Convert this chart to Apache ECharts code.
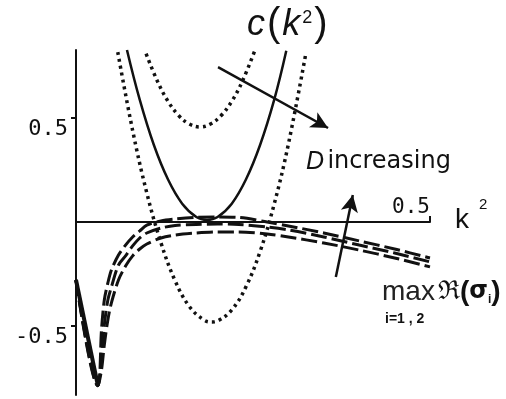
<!DOCTYPE html>
<html>
<head>
<meta charset="UTF-8">
<title>c(k2) and max Re(sigma)</title>
<style>
  html, body { margin: 0; padding: 0; background: #fff; }
  #main { width: 506px; height: 399px; }
</style>
</head>
<body>
<div id="main"></div>
<script src="https://cdn.jsdelivr.net/npm/echarts@6/dist/echarts.min.js"></script>
<script>
// k^2 grid used for the three max Re(sigma) curves
var kGrid = [0, 0.031, 0.036, 0.04, 0.045, 0.05, 0.06, 0.07, 0.08, 0.09, 0.10, 0.12, 0.14, 0.17, 0.20, 0.23, 0.27, 0.30, 0.35, 0.40, 0.45, 0.50];
var reTop = [-0.279, -0.788, -0.519, -0.375, -0.293, -0.231, -0.159, -0.111, -0.072, -0.043, -0.015, 0.005, 0.014, 0.022, 0.024, 0.022, 0.000, -0.019, -0.053, -0.091, -0.130, -0.173];
var reMid = [-0.279, -0.788, -0.639, -0.495, -0.375, -0.313, -0.207, -0.163, -0.115, -0.077, -0.053, -0.029, -0.017, -0.012, -0.010, -0.012, -0.024, -0.038, -0.072, -0.111, -0.149, -0.192];
var reLow = [-0.279, -0.788, -0.712, -0.591, -0.471, -0.389, -0.279, -0.212, -0.163, -0.130, -0.106, -0.077, -0.063, -0.053, -0.048, -0.048, -0.058, -0.072, -0.101, -0.135, -0.173, -0.216];
// common steep start of the three curves
var kEdge = [0, 0.031];
var reEdge = [-0.279, -0.788];

// c(k^2) for three values of D
var kSolid = [0.072, 0.09, 0.11, 0.13, 0.15, 0.17, 0.185, 0.20, 0.22, 0.24, 0.26, 0.28, 0.297];
var cSolid = [0.827, 0.588, 0.370, 0.204, 0.088, 0.024, 0.010, 0.024, 0.088, 0.204, 0.370, 0.588, 0.823];
var kDotUp = [0.099, 0.115, 0.13, 0.145, 0.16, 0.175, 0.19, 0.205, 0.22, 0.235, 0.253];
var cDotUp = [0.809, 0.677, 0.580, 0.512, 0.471, 0.457, 0.471, 0.512, 0.580, 0.677, 0.828];
var kDotLow = [0.059, 0.08, 0.10, 0.12, 0.14, 0.16, 0.18, 0.192, 0.20, 0.22, 0.24, 0.26, 0.28, 0.30, 0.325];
var cDotLow = [0.817, 0.440, 0.140, -0.100, -0.283, -0.406, -0.470, -0.481, -0.476, -0.423, -0.312, -0.142, 0.087, 0.375, 0.817];

// tick labels
var yTicks = [-0.5, 0.5];
var xTicks = [0.5];

// arrows (data coordinates)
var arrowD = [[0.2006, 0.745], [0.356, 0.452]];
var arrowRe = [[0.367, -0.264], [0.391, 0.130]];

function zip(xs, ys) {
    var out = [];
    for (var i = 0; i < xs.length; i++) out.push([xs[i], ys[i]]);
    return out;
}

var myChart = echarts.init(document.getElementById('main'));

var yMin = -0.832, yMax = 0.827;
var gridTop = 50, gridBottom = 4;
var plotH = 399 - gridTop - gridBottom;
// move the x axis up to y = 0
var xOffset = -Math.round(plotH * (0 - yMin) / (yMax - yMin));

var dashed = { color: '#111', width: 3, type: [16, 5] };
var dotted = { color: '#111', width: 3.5, type: [3, 4] };

var option = {
    animation: false,
    backgroundColor: '#fff',
    grid: { left: 76, right: 76, top: gridTop, bottom: gridBottom },
    xAxis: {
        type: 'value', min: 0, max: 0.5,
        position: 'bottom', offset: xOffset,
        axisLine: { onZero: false, lineStyle: { color: '#111', width: 2 } },
        splitLine: { show: false },
        axisTick: { customValues: xTicks, inside: true, length: 6, lineStyle: { color: '#111', width: 2 } },
        axisLabel: {
            customValues: xTicks, inside: true, margin: 4, align: 'right', verticalAlign: 'bottom',
            fontFamily: 'DejaVu Sans Mono', fontSize: 21, color: '#111',
            formatter: function (v) { return String(v); }
        }
    },
    yAxis: {
        type: 'value', min: yMin, max: yMax,
        axisLine: { onZero: false, lineStyle: { color: '#111', width: 2 } },
        splitLine: { show: false },
        axisTick: { customValues: yTicks, length: 5, lineStyle: { color: '#111', width: 2 } },
        axisLabel: {
            customValues: yTicks, margin: 8, verticalAlign: 'top',
            fontFamily: 'DejaVu Sans Mono', fontSize: 22, color: '#111',
            formatter: function (v) { return String(v); }
        }
    },
    series: [
        { type: 'line', data: zip(kEdge, reEdge), symbol: 'none', lineStyle: { color: '#111', width: 4 } },
        { type: 'line', data: zip(kGrid, reTop), symbol: 'none', smooth: 0.3, lineStyle: dashed },
        { type: 'line', data: zip(kGrid, reMid), symbol: 'none', smooth: 0.3, lineStyle: dashed },
        { type: 'line', data: zip(kGrid, reLow), symbol: 'none', smooth: 0.3, lineStyle: dashed },
        { type: 'line', data: zip(kDotLow, cDotLow), symbol: 'none', smooth: 0.4, lineStyle: dotted },
        { type: 'line', data: zip(kDotUp, cDotUp), symbol: 'none', smooth: 0.4, lineStyle: dotted },
        {
            type: 'line', data: zip(kSolid, cSolid), symbol: 'none', smooth: 0.4,
            lineStyle: { color: '#111', width: 2.5 },
            markLine: {
                silent: true,
                symbol: ['none', 'arrow'],
                symbolSize: [13, 17],
                label: { show: false },
                lineStyle: { color: '#111', width: 2.5, type: 'solid' },
                data: [
                    [{ coord: arrowD[0] }, { coord: arrowD[1] }],
                    [{ coord: arrowRe[0] }, { coord: arrowRe[1] }]
                ]
            }
        }
    ],
    graphic: [
        {
            type: 'text', x: 247, y: 25,
            style: {
                text: '{i|c}{p|(}{i|k}{s|2}{p|)}',
                verticalAlign: 'middle',
                rich: {
                    i: { font: 'italic 36px "Liberation Sans"', fill: '#111' },
                    p: { font: '40px "Liberation Sans"', fill: '#111', padding: [0, 2, 0, 2] },
                    s: { font: '18px "Liberation Sans"', fill: '#111', verticalAlign: 'top', padding: [4, 0, 0, 2] }
                }
            }
        },
        {
            type: 'text', x: 306, y: 162,
            style: {
                text: '{d|D} {n|increasing}',
                verticalAlign: 'middle',
                rich: {
                    d: { font: 'italic 25px "Liberation Sans"', fill: '#111' },
                    n: { font: '24px "DejaVu Sans"', fill: '#111' }
                }
            }
        },
        {
            type: 'text', x: 455, y: 220,
            style: { text: 'k', font: '28px "Liberation Sans"', fill: '#111', verticalAlign: 'middle' }
        },
        {
            type: 'text', x: 479, y: 205,
            style: { text: '2', font: '15px "Liberation Sans"', fill: '#111', verticalAlign: 'middle' }
        },
        {
            type: 'text', x: 382, y: 292,
            style: {
                text: '{m|max}{r|ℜ}{p|(}{b|σ}{s|i}{p|)}',
                verticalAlign: 'middle',
                rich: {
                    m: { font: '28px "Liberation Sans"', fill: '#222', padding: [0, 3, 0, 0] },
                    r: { font: '26px "DejaVu Serif"', fill: '#111' },
                    p: { font: 'bold 28px "Liberation Sans"', fill: '#111' },
                    b: { font: 'bold 24px "DejaVu Sans"', fill: '#111' },
                    s: { font: 'bold 12px "Liberation Sans"', fill: '#111', verticalAlign: 'bottom' }
                }
            }
        },
        {
            type: 'text', x: 385, y: 319,
            style: { text: 'i=1 , 2', font: 'bold 14px "Liberation Sans"', fill: '#111', verticalAlign: 'middle' }
        }
    ]
};

myChart.setOption(option);
</script>
</body>
</html>
